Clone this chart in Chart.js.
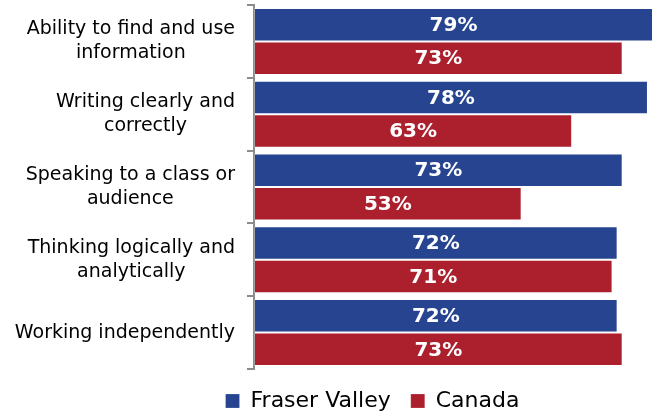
<!DOCTYPE html>
<html>
<head>
<meta charset="utf-8">
<script src="https://cdn.jsdelivr.net/npm/chart.js@4"></script>
<style>
  html, body { margin: 0; padding: 0; background: #fff; }
  #wrap { width: 653px; height: 415px; position: relative; }
</style>
</head>
<body>
<div id="wrap"><canvas id="mainChart"></canvas></div>
<script>
// 데이터
const categories = [
    ['Ability to find and use', 'information'],
    ['Writing clearly and', 'correctly'],
    ['Speaking to a class or', 'audience'],
    ['Thinking logically and', 'analytically'],
    ['Working independently'],
];
const fraserValley = [79, 78, 73, 72, 72];
const canada = [73, 63, 53, 71, 73];

const BLUE = '#26448F';
const RED = '#AC1F2D';
const LABEL_FONT = "19px 'DejaVu Sans', sans-serif";

// y축 라벨: 블록은 오른쪽 정렬, 줄은 가운데 정렬
const categoryLabels = {
    id: 'categoryLabels',
    afterDraw(chart) {
        const ctx = chart.ctx;
        const scale = chart.scales.y;
        const right = 235;
        const lineH = 24;
        ctx.save();
        ctx.font = LABEL_FONT;
        ctx.fillStyle = '#000';
        ctx.textBaseline = 'middle';
        ctx.textAlign = 'center';
        categories.forEach((lines, i) => {
            const yc = scale.getPixelForValue(i);
            const w = Math.max(...lines.map(l => ctx.measureText(l).width));
            const cx = right - w / 2;
            const y0 = yc - (lines.length - 1) * lineH / 2;
            lines.forEach((l, j) => ctx.fillText(l, cx, y0 + j * lineH));
        });
        ctx.restore();
    }
};

// 막대 안 값 라벨
const valueLabels = {
    id: 'valueLabels',
    afterDatasetsDraw(chart) {
        const ctx = chart.ctx;
        ctx.save();
        ctx.font = "bold 20px 'DejaVu Sans', sans-serif";
        ctx.fillStyle = '#fff';
        ctx.textAlign = 'center';
        ctx.textBaseline = 'middle';
        chart.data.datasets.forEach((ds, di) => {
            chart.getDatasetMeta(di).data.forEach((bar, i) => {
                ctx.fillText(ds.data[i] + '%', (bar.base + bar.x) / 2, bar.y + 1);
            });
        });
        ctx.restore();
    }
};

// 범례 위치 보정
const legendShift = {
    id: 'legendShift',
    afterLayout(chart) {
        const lg = chart.legend;
        lg.left += 46;
        lg.right += 46;
        lg.top += 1;
        lg.bottom += 1;
    }
};

new Chart(document.getElementById('mainChart'), {
    type: 'bar',
    data: {
        labels: categories,
        datasets: [
            { label: 'Fraser Valley', data: fraserValley, backgroundColor: BLUE,
              borderColor: 'rgba(255,255,255,0.2)', borderWidth: 1, borderSkipped: false },
            { label: 'Canada', data: canada, backgroundColor: RED,
              borderColor: 'rgba(255,255,255,0.2)', borderWidth: 1, borderSkipped: false },
        ],
    },
    options: {
        indexAxis: 'y',
        responsive: true,
        maintainAspectRatio: false,
        animation: false,
        layout: { padding: { top: 5, right: 0, bottom: -6, left: 0 } },
        datasets: { bar: { categoryPercentage: 0.92, barPercentage: 1.0 } },
        plugins: {
            legend: {
                position: 'bottom',
                labels: {
                    font: { family: "'DejaVu Sans', sans-serif", size: 22 },
                    color: '#000',
                    boxWidth: 14,
                    boxHeight: 14,
                    padding: 20,
                },
            },
            tooltip: { enabled: false },
        },
        scales: {
            x: { display: false, min: 0, max: 79 },
            y: {
                offset: true,
                ticks: { display: false },
                grid: { drawOnChartArea: false, drawTicks: true, tickLength: 7, color: '#8c8c8c', lineWidth: 2 },
                border: { display: true, color: '#8c8c8c', width: 2 },
                afterFit: (scale) => { scale.width = 254; },
            },
        },
    },
    plugins: [categoryLabels, valueLabels, legendShift],
});
</script>
</body>
</html>
